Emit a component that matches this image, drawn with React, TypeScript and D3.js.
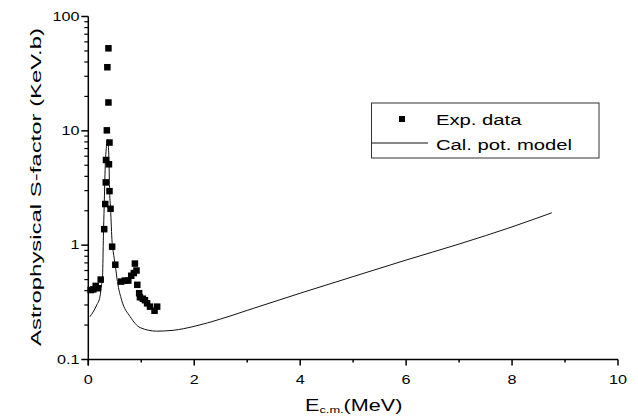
import React, { useEffect, useRef } from 'react';
import * as d3 from 'd3';

// experimental points (E c.m. in MeV, S in keV.b)
const expE = [0.045, 0.094, 0.14, 0.18, 0.234, 0.30, 0.32, 0.33, 0.334, 0.35, 0.36, 0.38, 0.38, 0.40, 0.39, 0.40, 0.42, 0.45, 0.51, 0.62, 0.69, 0.755, 0.81, 0.86, 0.88, 0.91, 0.925, 0.96, 0.975, 1.03, 1.07, 1.11, 1.165, 1.25, 1.30];
const expS = [0.405, 0.41, 0.44, 0.42, 0.50, 1.38, 2.29, 3.54, 5.56, 10.1, 36, 52.7, 17.7, 7.9, 5.1, 2.97, 2.08, 0.97, 0.675, 0.48, 0.49, 0.49, 0.54, 0.57, 0.69, 0.60, 0.45, 0.38, 0.35, 0.34, 0.33, 0.31, 0.29, 0.267, 0.29];

// potential model curve
const modelE = [0.03, 0.09, 0.16, 0.22, 0.25, 0.27, 0.285, 0.30, 0.31, 0.32, 0.34, 0.365, 0.39, 0.40, 0.42, 0.45, 0.47, 0.51, 0.55, 0.63, 0.79, 0.98, 1.29, 1.6, 2.0, 2.5, 3.0, 4.0, 5.0, 6.0, 7.0, 8.0, 8.75];
const modelS = [0.237, 0.26, 0.30, 0.354, 0.45, 0.55, 1.2, 2.2, 3.4, 5.0, 7.0, 8.4, 5.6, 3.2, 2.1, 1.05, 0.88, 0.66, 0.48, 0.33, 0.237, 0.19, 0.177, 0.18, 0.195, 0.226, 0.269, 0.38, 0.531, 0.741, 1.023, 1.445, 1.92];

const xTicks = [0, 2, 4, 6, 8, 10];
const yTicks = [0.1, 1, 10, 100];
const legendLabels = ['Exp. data', 'Cal. pot. model'];

const W = 638;
const H = 417;
const SX = 1.35; // text in the source is drawn horizontally stretched
const FONT = 'Arial, "Liberation Sans", sans-serif';

const App = () => {
    const ref = useRef<SVGSVGElement>(null);

    useEffect(() => {
        const svg = d3.select(ref.current);
        svg.selectAll('*').remove();

        const x = d3.scaleLinear().domain([0, 10]).range([88.3, 618]);
        const y = d3.scaleLog().domain([0.1, 100]).range([359.5, 16.5]);

        const stretchText = (g, tx, ty, str, size, anchor) =>
            g.append('text')
                .attr('transform', `translate(${tx},${ty}) scale(${SX},1)`)
                .attr('text-anchor', anchor)
                .attr('font-family', FONT)
                .attr('font-size', size)
                .attr('fill', '#000')
                .text(str);

        // model curve
        const pts = modelE.map((e, i) => [e, modelS[i]]);
        const line = d3.line()
            .x(d => x(d[0]))
            .y(d => y(d[1]))
            .curve(d3.curveMonotoneX);
        svg.append('path')
            .attr('d', line(pts))
            .attr('fill', 'none')
            .attr('stroke', '#111')
            .attr('stroke-width', 1);

        // experimental points
        const sq = 6.5;
        svg.append('g').selectAll('rect')
            .data(expE.map((e, i) => [e, expS[i]]))
            .join('rect')
            .attr('x', d => x(d[0]) - sq / 2)
            .attr('y', d => y(d[1]) - sq / 2)
            .attr('width', sq)
            .attr('height', sq)
            .attr('fill', '#000');

        // axes
        const ax = svg.append('g').attr('stroke', '#000').attr('stroke-width', 1.5);
        ax.append('line').attr('x1', x(0)).attr('x2', x(10)).attr('y1', y(0.1)).attr('y2', y(0.1));
        ax.append('line').attr('x1', x(0)).attr('x2', x(0)).attr('y1', y(100)).attr('y2', y(0.1) + 6);

        d3.range(0, 11).forEach(v => {
            const major = v % 2 === 0;
            ax.append('line')
                .attr('x1', x(v)).attr('x2', x(v))
                .attr('y1', y(0.1)).attr('y2', y(0.1) + (major ? 6 : 3));
        });
        yTicks.forEach((t, i) => {
            ax.append('line')
                .attr('x1', x(0) - 7).attr('x2', x(0))
                .attr('y1', y(t)).attr('y2', y(t));
            if (i < yTicks.length - 1) {
                d3.range(2, 10).forEach(m => {
                    ax.append('line')
                        .attr('x1', x(0) - 4).attr('x2', x(0))
                        .attr('y1', y(t * m)).attr('y2', y(t * m))
                        .attr('stroke-width', 1.2);
                });
            }
        });

        // tick labels
        xTicks.forEach(t => stretchText(svg, x(t), 384, String(t), 12, 'middle'));
        yTicks.forEach(t => stretchText(svg, 79.5, y(t) + 4.3, String(t), 12, 'end'));

        // x title with subscript
        const xt = svg.append('text')
            .attr('transform', `translate(305,410.5) scale(${SX},1)`)
            .attr('font-family', FONT)
            .attr('font-size', 16)
            .attr('fill', '#000');
        xt.append('tspan').text('E');
        xt.append('tspan').attr('font-size', 9.5).attr('dy', 2).text('c.m.');
        xt.append('tspan').attr('dy', -2).text('(MeV)');

        // y title
        svg.append('text')
            .attr('transform', 'translate(41,187) rotate(-90)')
            .attr('text-anchor', 'middle')
            .attr('font-family', FONT)
            .attr('font-size', 14)
            .attr('textLength', 318)
            .attr('lengthAdjust', 'spacingAndGlyphs')
            .attr('fill', '#000')
            .text('Astrophysical S-factor (KeV.b)');

        // legend
        const lg = svg.append('g');
        lg.append('rect')
            .attr('x', 371.5).attr('y', 103)
            .attr('width', 227.5).attr('height', 55)
            .attr('fill', '#fff')
            .attr('stroke', '#333')
            .attr('stroke-width', 1);
        lg.append('rect')
            .attr('x', 402 - 3).attr('y', 119 - 3)
            .attr('width', 6).attr('height', 6)
            .attr('fill', '#000');
        lg.append('line')
            .attr('x1', 372).attr('x2', 428)
            .attr('y1', 143).attr('y2', 143)
            .attr('stroke', '#111').attr('stroke-width', 1);
        stretchText(lg, 436, 125, legendLabels[0], 15, 'start');
        stretchText(lg, 436, 150, legendLabels[1], 15, 'start');
    }, []);

    return (
        <svg
            ref={ref}
            width={W}
            height={H}
            style={{ position: 'absolute', left: 0, top: 0, background: '#fff' }}
        />
    );
};

export default App;
